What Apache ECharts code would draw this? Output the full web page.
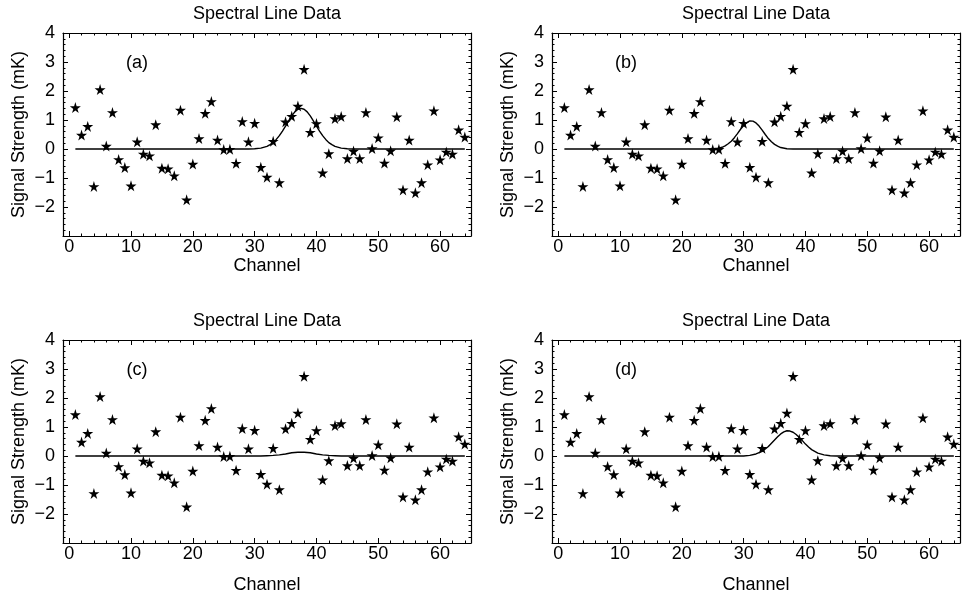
<!DOCTYPE html>
<html><head><meta charset="utf-8">
<script src="https://cdn.jsdelivr.net/npm/echarts@6/dist/echarts.min.js"></script>
<style>html,body{margin:0;padding:0;background:#fff}#c{width:963px;height:596px}</style>
</head><body><div id="c"></div><script>
// ---- data ----
const channels = [1,2,3,4,5,6,7,8,9,10,11,12,13,14,15,16,17,18,19,20,21,22,23,24,25,26,27,28,29,30,31,32,
  33,34,35,36,37,38,39,40,41,42,43,44,45,46,47,48,49,50,51,52,53,54,55,56,57,58,59,60,61,62,63,64];
const signal = [1.43,0.48,0.78,-1.29,2.05,0.10,1.26,-0.36,-0.64,-1.27,0.25,-0.17,-0.23,0.84,-0.66,-0.68,
  -0.92,1.34,-1.75,-0.52,0.36,1.23,1.64,0.31,-0.02,-0.01,-0.49,0.95,0.25,0.89,-0.63,-0.97,0.27,-1.16,0.94,
  1.13,1.48,2.75,0.58,0.88,-0.82,-0.16,1.05,1.12,-0.33,-0.07,-0.33,1.26,0.02,0.39,-0.48,-0.06,1.11,-1.41,
  0.31,-1.51,-1.16,-0.54,1.32,-0.37,-0.10,-0.17,0.66,0.41];

const curveAX = [1,29,30,31,32,32.5,33,33.5,34,34.5,35,35.5,36,36.5,37,37.5,38,38.5,39,39.5,40,40.5,41,41.5,42,42.5,43,44,45,46,64];
const curveAY = [0,0,0.01,0.03,0.09,0.15,0.22,0.33,0.46,0.62,0.79,0.97,1.14,1.28,1.37,1.40,1.37,1.28,1.14,0.97,0.79,0.62,0.46,0.33,0.22,0.15,0.09,0.03,0.01,0,0];
const curveBX = [1,24,25,26,26.5,27,27.5,28,28.5,29,29.5,30,30.5,31,31.5,32,32.5,33,33.5,34,34.5,35,35.5,36,37,38,64];
const curveBY = [0,0,0.01,0.03,0.06,0.11,0.18,0.27,0.39,0.53,0.68,0.81,0.91,0.97,0.96,0.90,0.79,0.65,0.50,0.36,0.25,0.16,0.10,0.05,0.01,0,0];
const curveCX = [1,31,32,33,34,35,36,37,37.5,38,39,40,41,42,43,44,64];
const curveCY = [0,0,0.01,0.02,0.04,0.07,0.11,0.13,0.13,0.13,0.11,0.07,0.04,0.02,0.01,0,0];
const curveDX = [1,30,31,32,33,33.5,34,34.5,35,35.5,36,36.5,37,37.5,38,38.5,39,39.5,40,40.5,41,42,43,44,45,64];
const curveDY = [0,0,0.02,0.07,0.16,0.24,0.33,0.44,0.55,0.66,0.76,0.83,0.87,0.86,0.82,0.74,0.64,0.53,0.41,0.31,0.22,0.10,0.04,0.01,0,0];

const panelLabels = ['(a)','(b)','(c)','(d)'];
const titleText = 'Spectral Line Data';
const xName = 'Channel';
const yName = 'Signal Strength (mK)';
const xMajorTicks = [0,10,20,30,40,50,60];
const xMinorTicks = [0,2,4,6,8,10,12,14,16,18,20,22,24,26,28,30,32,34,36,38,40,42,44,46,48,50,52,54,56,58,60,62,64];
const yTickLabels = [-2,-1,0,1,2,3,4];

// ---- layout ----
const FONT = '"Liberation Sans", Arial, sans-serif';
const GW = 408, GH = 203;
const layout = [
  {left:63, top:33, gap:18, cx:[curveAX,curveAY]},
  {left:552, top:33, gap:18, cx:[curveBX,curveBY]},
  {left:63, top:340, gap:33, cx:[curveCX,curveCY]},
  {left:552, top:340, gap:33, cx:[curveDX,curveDY]}
];
const STAR = 'path://M50,0 L61,35 L98,35 L68,57 L79,91 L50,70 L21,91 L32,57 L2,35 L39,35 Z';
const black = '#000';
const grid=[], xAxis=[], yAxis=[], series=[], graphic=[];
const scatterData = channels.map((c,k)=>[c, signal[k]]);

layout.forEach((p,i)=>{
  grid.push({left:p.left, top:p.top, width:GW, height:GH});
  const xb = {gridIndex:i, type:'value', min:-1, max:65, splitLine:{show:false}};
  const lineOn = {show:true, onZero:false, lineStyle:{color:black, width:1.2}};
  const lineOff = {show:false, onZero:false};
  xAxis.push(Object.assign({}, xb, {position:'bottom', axisLine:lineOn,
    axisTick:{show:true, inside:true, length:5, customValues:xMajorTicks, lineStyle:{color:black, width:1}},
    axisLabel:{show:true, customValues:xMajorTicks, fontSize:18, color:black, fontFamily:FONT, margin:2},
    name:xName, nameLocation:'middle', nameGap:p.gap, nameTextStyle:{fontSize:18, color:black, fontFamily:FONT}}));
  xAxis.push(Object.assign({}, xb, {position:'bottom', axisLine:lineOff,
    axisTick:{show:true, inside:true, length:2.5, customValues:xMinorTicks, lineStyle:{color:black, width:1}},
    axisLabel:{show:false}}));
  xAxis.push(Object.assign({}, xb, {position:'top', axisLine:lineOn,
    axisTick:{show:true, inside:true, length:5, customValues:xMajorTicks, lineStyle:{color:black, width:1}},
    axisLabel:{show:false}}));
  xAxis.push(Object.assign({}, xb, {position:'top', axisLine:lineOff,
    axisTick:{show:true, inside:true, length:2.5, customValues:xMinorTicks, lineStyle:{color:black, width:1}},
    axisLabel:{show:false}}));
  const yb = {gridIndex:i, type:'value', min:-3, max:4, interval:1, splitLine:{show:false},
    minorTick:{show:true, splitNumber:5, length:2.5, lineStyle:{color:black, width:1}}, minorSplitLine:{show:false}};
  yAxis.push(Object.assign({}, yb, {position:'left', axisLine:lineOn,
    axisTick:{show:true, inside:true, length:5, lineStyle:{color:black, width:1}},
    axisLabel:{show:true, customValues:yTickLabels, fontSize:18, color:black, fontFamily:FONT, margin:8,
      formatter: v => String(v).replace('-', '\u2212')},
    name:yName, nameLocation:'middle', nameGap:35, nameRotate:90,
    nameTextStyle:{fontSize:18, color:black, fontFamily:FONT}}));
  yAxis.push(Object.assign({}, yb, {position:'right', axisLine:lineOn,
    axisTick:{show:true, inside:true, length:5, lineStyle:{color:black, width:1}},
    axisLabel:{show:false}}));
  series.push({type:'line', xAxisIndex:i*4, yAxisIndex:i*2, showSymbol:false, symbol:'none', silent:true,
    data: p.cx[0].map((x,k)=>[x, p.cx[1][k]]), lineStyle:{color:black, width:1.4}, z:2});
  series.push({type:'scatter', xAxisIndex:i*4, yAxisIndex:i*2, symbol:STAR, symbolSize:11,
    itemStyle:{color:black, opacity:1}, data:scatterData, z:3});
  graphic.push({type:'text', x:p.left+GW/2, y:p.top-19, style:{text:titleText, fontSize:18, fontFamily:FONT,
    fill:black, align:'center', verticalAlign:'middle', textAlign:'center', textVerticalAlign:'middle'}});
  graphic.push({type:'text', x:p.left+74, y:p.top+30, style:{text:panelLabels[i], fontSize:18, fontFamily:FONT,
    fill:black, align:'center', verticalAlign:'middle', textAlign:'center', textVerticalAlign:'middle'}});
});

const chart = echarts.init(document.getElementById('c'), null, {renderer:'canvas'});
chart.setOption({animation:false, backgroundColor:'#fff', grid, xAxis, yAxis, series, graphic});
</script></body></html>
